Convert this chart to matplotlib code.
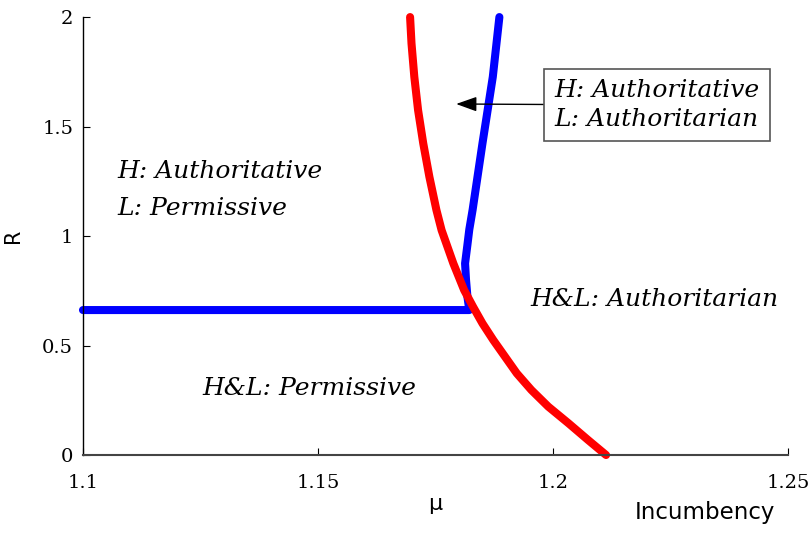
import matplotlib.pyplot as plt
import numpy as np

# boundary curves (mu, R)
red_mu = [1.1696, 1.1699, 1.1705, 1.1713, 1.1724, 1.1737, 1.1752, 1.1763,
          1.1788, 1.1811, 1.1830, 1.1850, 1.1873, 1.1898, 1.1923, 1.1954,
          1.1990, 1.2033, 1.2075, 1.2113]
red_R = [2.0, 1.88, 1.727, 1.575, 1.423, 1.271, 1.119, 1.027,
         0.875, 0.753, 0.677, 0.601, 0.525, 0.449, 0.373, 0.297,
         0.221, 0.145, 0.068, 0.0]

blue_mu = [1.1, 1.1822, 1.1818, 1.1815, 1.1813, 1.1818, 1.1822, 1.1829,
           1.1850, 1.1872, 1.1886]
blue_R = [0.662, 0.662, 0.723, 0.80, 0.875, 0.96, 1.03, 1.119,
          1.423, 1.727, 2.0]

xticks = [1.1, 1.15, 1.2, 1.25]
xlabels = ["1.1", "1.15", "1.2", "1.25"]
yticks = [0, 0.5, 1, 1.5, 2]
ylabels = ["0", "0.5", "1", "1.5", "2"]

fig = plt.figure(figsize=(8.11, 5.33), dpi=100)
ax = fig.add_axes([0.1023, 0.1463, 0.8693, 0.8217])

ax.plot(blue_mu, blue_R, color="#0000ff", lw=5.8, solid_capstyle="round",
        solid_joinstyle="round", clip_on=False)
ax.plot(red_mu, red_R, color="#ff0000", lw=5.8, solid_capstyle="round",
        solid_joinstyle="round", clip_on=False)

ax.set_xlim(1.1, 1.25)
ax.set_ylim(0, 2)
ax.set_xticks(xticks)
ax.set_xticklabels(xlabels, family="DejaVu Serif", fontsize=14)
ax.set_yticks(yticks)
ax.set_yticklabels(ylabels, family="DejaVu Serif", fontsize=14)
ax.tick_params(direction="in", length=5, width=0.8)
ax.tick_params(axis="x", pad=14)
ax.tick_params(axis="y", pad=7)
ax.spines["top"].set_visible(False)
ax.spines["right"].set_visible(False)
ax.spines["left"].set_linewidth(1.0)
ax.spines["bottom"].set_color("#444444")
ax.spines["bottom"].set_linewidth(1.5)

ax.set_ylabel("R", fontsize=15, labelpad=14)
ax.set_xlabel("\u03bc", fontsize=16, labelpad=1)
fig.text(0.956, 0.026, "Incumbency", fontsize=16.5, ha="right", va="baseline")

tfont = dict(family="DejaVu Serif", style="italic", fontsize=18)
ax.text(1.1074, 1.297, "H: Authoritative", va="center", **tfont)
ax.text(1.1074, 1.128, "L: Permissive", va="center", **tfont)
ax.text(1.1255, 0.306, "H&L: Permissive", va="center", **tfont)
ax.text(1.1951, 0.708, "H&L: Authoritarian", va="center", **tfont)

ax.annotate("H: Authoritative\nL: Authoritarian", xy=(1.1794, 1.603),
            xytext=(1.2004, 1.598), va="center", ha="left",
            linespacing=1.3, **tfont,
            bbox=dict(boxstyle="square,pad=0.42", fc="white", ec="#555555", lw=1.2),
            arrowprops=dict(arrowstyle="-|>,head_length=0.7,head_width=0.25",
                            color="black", lw=1.0, shrinkA=0, shrinkB=0))

fig.savefig("out.png", dpi=100)
